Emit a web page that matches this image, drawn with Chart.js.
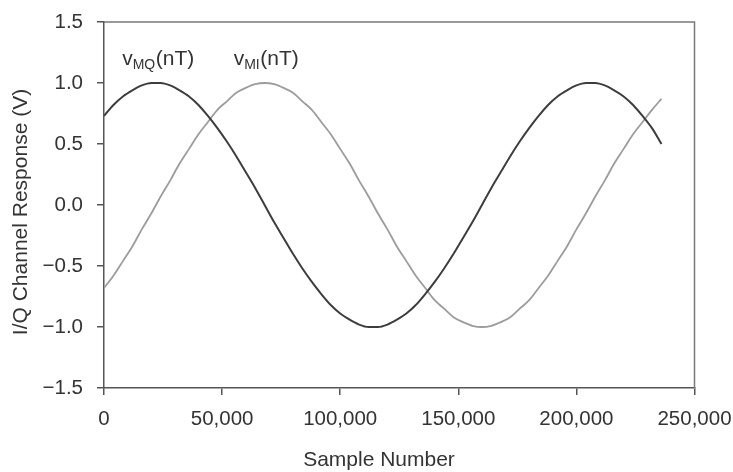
<!DOCTYPE html>
<html>
<head>
<meta charset="utf-8">
<title>I/Q Channel Response</title>
<script src="https://cdn.jsdelivr.net/npm/chart.js@4.4.1/dist/chart.umd.min.js"></script>
<style>
  html, body { margin: 0; padding: 0; background: #fff; }
  #wrap { width: 733px; height: 472px; position: relative; }
</style>
</head>
<body>
<div id="wrap"><canvas id="c" width="733" height="472"></canvas></div>
<script>
// Sample numbers at which both channels are read
const sampleNumbers = [
  0, 4000, 8000, 12000, 16000, 20000, 24000, 28000, 32000, 36000,
  40000, 44000, 48000, 52000, 56000, 60000, 64000, 68000, 72000, 76000,
  80000, 84000, 88000, 92000, 96000, 100000, 104000, 108000, 112000, 116000,
  120000, 124000, 128000, 132000, 136000, 140000, 144000, 148000, 152000, 156000,
  160000, 164000, 168000, 172000, 176000, 180000, 184000, 188000, 192000, 196000,
  200000, 204000, 208000, 212000, 216000, 220000, 224000, 228000, 232000, 236000
];

// Q channel output v_MQ(nT), volts
const vMQ = [
  0.73, 0.82, 0.89, 0.94, 0.98, 1.00, 1.00, 0.98, 0.94, 0.89,
  0.82, 0.73, 0.63, 0.52, 0.40, 0.27, 0.14, 0.00, -0.14, -0.27,
  -0.40, -0.52, -0.63, -0.73, -0.82, -0.89, -0.94, -0.98, -1.00, -1.00,
  -0.98, -0.94, -0.89, -0.82, -0.73, -0.63, -0.52, -0.40, -0.27, -0.14,
  0.00, 0.14, 0.27, 0.40, 0.52, 0.63, 0.73, 0.82, 0.89, 0.94,
  0.98, 1.00, 1.00, 0.98, 0.94, 0.89, 0.82, 0.73, 0.63, 0.50
];

// I channel output v_MI(nT), volts
const vMI = [
  -0.68, -0.58, -0.46, -0.34, -0.20, -0.07, 0.07, 0.20, 0.34, 0.46,
  0.58, 0.68, 0.78, 0.85, 0.92, 0.96, 0.99, 1.00, 0.99, 0.96,
  0.92, 0.85, 0.78, 0.68, 0.58, 0.46, 0.34, 0.20, 0.07, -0.07,
  -0.20, -0.34, -0.46, -0.58, -0.68, -0.78, -0.85, -0.92, -0.96, -0.99,
  -1.00, -0.99, -0.96, -0.92, -0.85, -0.78, -0.68, -0.58, -0.46, -0.34,
  -0.20, -0.07, 0.07, 0.20, 0.34, 0.46, 0.58, 0.68, 0.78, 0.87
];

const xTickLabels = ['0', '50,000', '100,000', '150,000', '200,000', '250,000'];
const yTickLabels = ['\u22121.5', '\u22121.0', '\u22120.5', '0.0', '0.5', '1.0', '1.5'];

const seriesNames = ['MQ', 'MI'];
const toPoints = (ys) => sampleNumbers.map((x, i) => ({ x: x, y: ys[i] }));

const FONT = '"Liberation Sans", Arial, Helvetica, sans-serif';
const TEXT = '#333';

// Frame, axis titles and curve labels
const decorations = {
  id: 'decorations',
  beforeDatasetsDraw(chart) {
    const { ctx, chartArea: a } = chart;
    ctx.save();
    ctx.strokeStyle = '#7a7a7a';
    ctx.lineWidth = 1.5;
    ctx.beginPath();
    ctx.moveTo(a.left, a.top);
    ctx.lineTo(a.right, a.top);
    ctx.lineTo(a.right, a.bottom);
    ctx.stroke();
    ctx.restore();
  },
  afterDraw(chart) {
    const { ctx, scales } = chart;
    const xs = scales.x, ys = scales.y;
    ctx.save();
    ctx.fillStyle = TEXT;

    // y axis title
    ctx.save();
    ctx.translate(21, 212);
    ctx.rotate(-Math.PI / 2);
    ctx.font = '21px ' + FONT;
    ctx.textAlign = 'center';
    ctx.textBaseline = 'middle';
    ctx.fillText('I/Q Channel Response (V)', 0, 0);
    ctx.restore();

    // x axis title
    ctx.font = '21px ' + FONT;
    ctx.textAlign = 'center';
    ctx.textBaseline = 'alphabetic';
    ctx.fillText('Sample Number', 379, 466);

    // curve labels: v with subscript, then (nT)
    const label = (sub, xv, yv) => {
      let px = xs.getPixelForValue(xv);
      const py = ys.getPixelForValue(yv);
      ctx.textAlign = 'left';
      ctx.textBaseline = 'alphabetic';
      ctx.font = '21px ' + FONT;
      ctx.fillText('v', px, py);
      px += ctx.measureText('v').width;
      ctx.font = '14px ' + FONT;
      ctx.fillText(sub, px, py + 4);
      px += ctx.measureText(sub).width + 0.5;
      ctx.font = '21px ' + FONT;
      ctx.fillText('(nT)', px, py);
    };
    label(seriesNames[0], 7700, 1.15);
    label(seriesNames[1], 54900, 1.15);
    ctx.restore();
  }
};

new Chart(document.getElementById('c'), {
  type: 'line',
  data: {
    datasets: [
      {
        label: 'vMQ(nT)',
        data: toPoints(vMQ),
        borderColor: '#3d3d3d',
        borderWidth: 2,
        pointRadius: 0,
        cubicInterpolationMode: 'monotone'
      },
      {
        label: 'vMI(nT)',
        data: toPoints(vMI),
        borderColor: '#9c9c9c',
        borderWidth: 1.8,
        pointRadius: 0,
        cubicInterpolationMode: 'monotone'
      }
    ]
  },
  options: {
    responsive: false,
    animation: false,
    events: [],
    layout: { padding: { left: 0, right: 0, top: 22, bottom: 0 } },
    plugins: {
      legend: { display: false },
      tooltip: { enabled: false },
      title: { display: false }
    },
    scales: {
      x: {
        type: 'linear',
        min: 0,
        max: 250000,
        afterFit(scale) {
          scale.height = 84;
          scale.paddingLeft = 0;
          scale.paddingRight = 38.5;
        },
        afterBuildTicks(scale) {
          scale.ticks = xTickLabels.map((_, i) => ({ value: i * 50000 }));
        },
        ticks: {
          autoSkip: false,
          maxRotation: 0,
          padding: 12,
          color: TEXT,
          font: { family: FONT, size: 20.5 },
          callback: (v, i) => xTickLabels[i]
        },
        grid: {
          drawOnChartArea: false,
          drawTicks: true,
          tickLength: 7,
          color: '#555',
          lineWidth: 1.5
        },
        border: { display: true, color: '#555', width: 1.5 }
      },
      y: {
        type: 'linear',
        min: -1.5,
        max: 1.5,
        afterFit(scale) {
          scale.width = 104;
          scale.paddingTop = 0;
          scale.paddingBottom = 0;
        },
        afterBuildTicks(scale) {
          scale.ticks = yTickLabels.map((_, i) => ({ value: -1.5 + i * 0.5 }));
        },
        ticks: {
          autoSkip: false,
          padding: 14,
          color: TEXT,
          font: { family: FONT, size: 20.5 },
          callback: (v, i) => yTickLabels[i]
        },
        grid: {
          drawOnChartArea: false,
          drawTicks: true,
          tickLength: 7,
          color: '#555',
          lineWidth: 1.5
        },
        border: { display: true, color: '#555', width: 1.5 }
      }
    }
  },
  plugins: [decorations]
});
</script>
</body>
</html>
